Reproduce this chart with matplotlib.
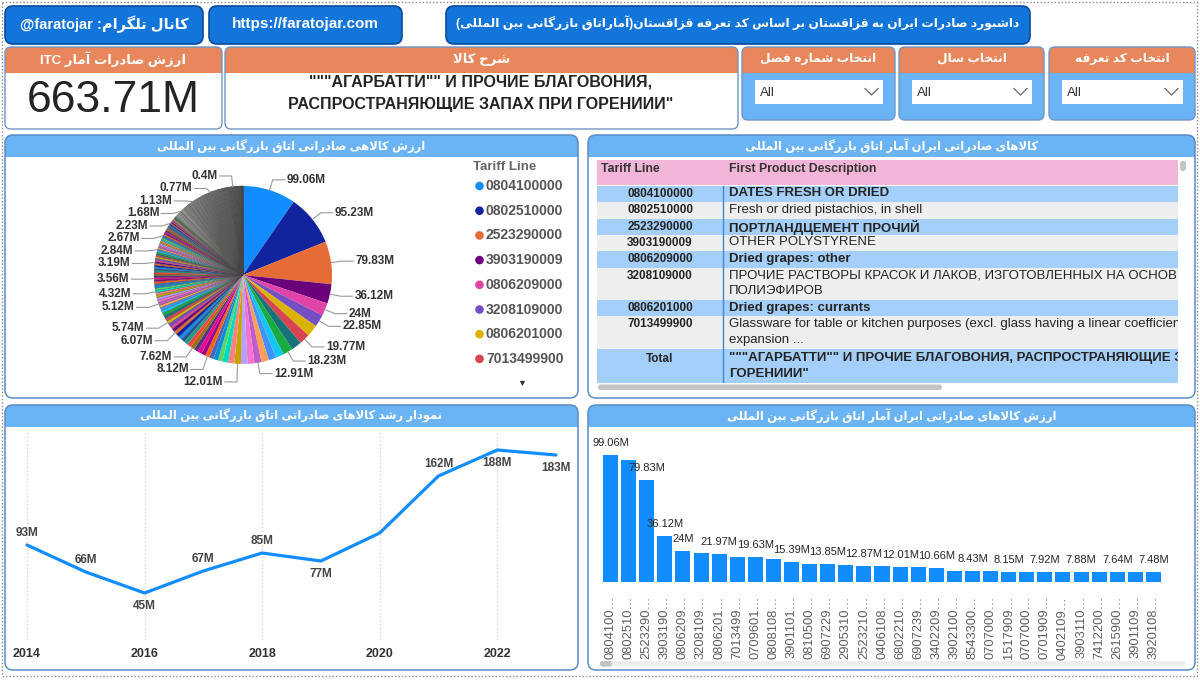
import re
import math
import matplotlib
matplotlib.use('Agg')
import matplotlib.pyplot as plt
from matplotlib.patches import FancyBboxPatch, Rectangle, Circle

plt.rcParams['font.family'] = ['Liberation Sans', 'DejaVu Sans']

# ------------------------------------------------------------------ data
kpi_value = '663.71M'
product_desc_lines = ['"""АГАРБАТТИ"" И ПРОЧИЕ БЛАГОВОНИЯ,',
                      'РАСПРОСТРАНЯЮЩИЕ ЗАПАХ ПРИ ГОРЕНИИИ"']

t_tel = 'کانال تلگرام: @faratojar'
t_url = 'https://faratojar.com'
t_title = 'داشبورد صادرات ایران به قزاقستان بر اساس کد تعرفه قزاقستان(آماراتاق بازرگانی بین المللی)'
t_kpi = 'ارزش صادرات آمار ITC'
t_desc = 'شرح کالا'
slicer_titles = ['انتخاب شماره فصل', 'انتخاب سال', 'انتخاب کد تعرفه']
slicer_values = ['All', 'All', 'All']
t_pie = 'ارزش کالاهی صادراتی اتاق بازرگانی بین المللی'
t_table = 'کالاهای صادراتی ایران آمار اتاق بازرگانی بین المللی'
t_line = 'نمودار رشد کالاهای صادراتی اتاق بازرگانی بین المللی'
t_bar = 'ارزش کالاهای صادراتی ایران آمار اتاق بازرگانی بین المللی'

years = [2014, 2015, 2016, 2017, 2018, 2019, 2020, 2021, 2022, 2023]
yearly_values = [93, 66, 45, 67, 85, 77, 105, 162, 188, 183]
yearly_label_side = ['above', 'above', 'below', 'above', 'above', 'below', None, 'above', 'below', 'below']
year_ticks = [2014, 2016, 2018, 2020, 2022]

bar_codes = ['0804100', '0802510', '2523290', '3903190', '0806209', '3208109', '0806201',
             '7013499', '0709601', '0808108', '3901101', '0810500', '6907229', '2905310',
             '2523210', '0406108', '6802210', '6907239', '3402209', '3902100', '8543300',
             '0707000', '1517909', '0707000', '0701909', '0402109', '3903110', '7412200',
             '2615900', '3901109', '3920108']
bar_values = [99.06, 95.23, 79.83, 36.12, 24.00, 22.85, 21.97, 19.77, 19.63, 18.23,
              15.39, 13.98, 13.85, 12.91, 12.87, 12.40, 12.01, 11.60, 10.66, 8.60,
              8.43, 8.30, 8.15, 8.00, 7.92, 7.90, 7.88, 7.70, 7.64, 7.50, 7.48]
bar_labelled = [0, 2, 3, 4, 6, 8, 10, 12, 14, 16, 18, 20, 22, 24, 26, 28, 30]

legend_codes = ['0804100000', '0802510000', '2523290000', '3903190009',
                '0806209000', '3208109000', '0806201000', '7013499900']

table_codes = ['0804100000', '0802510000', '2523290000', '3903190009',
               '0806209000', '3208109000', '0806201000', '7013499900']
table_descs = ['DATES FRESH OR DRIED',
               'Fresh or dried pistachios, in shell',
               'ПОРТЛАНДЦЕМЕНТ ПРОЧИЙ',
               'OTHER POLYSTYRENE',
               'Dried grapes: other',
               'ПРОЧИЕ РАСТВОРЫ КРАСОК И ЛАКОВ, ИЗГОТОВЛЕННЫХ НА ОСНОВЕ\nПОЛИЭФИРОВ',
               'Dried grapes: currants',
               'Glassware for table or kitchen purposes (excl. glass having a linear coefficient\nexpansion ...']
table_total_desc = '"""АГАРБАТТИ"" И ПРОЧИЕ БЛАГОВОНИЯ, РАСПРОСТРАНЯЮЩИЕ ЗАПАХ ПРИ\nГОРЕНИИИ"'

pie_values = [
    99.06, 95.23, 79.83, 36.12, 24.00, 22.85, 21.97, 19.77, 19.63, 18.23,
    15.39, 13.98, 13.85, 12.91, 12.87, 12.40, 12.01, 11.60, 10.66, 8.60,
    8.43, 8.30, 8.12, 7.92, 7.88, 7.80, 7.62,
    7.48, 7.30, 7.10, 6.90, 6.70, 6.07,
    5.95, 5.85, 5.80, 5.74,
    5.60, 5.50, 5.45, 5.40, 5.30, 5.20, 5.12,
    4.90, 4.70, 4.50, 4.40, 4.32,
    4.25, 4.15, 4.05, 3.95, 3.80, 3.56,
    3.50, 3.45, 3.40, 3.35, 3.30, 3.28, 3.25, 3.22, 3.19,
    3.15, 3.10, 3.05, 3.00, 2.95, 2.90, 2.88, 2.84,
    2.82, 2.80, 2.78, 2.76, 2.74, 2.72, 2.70, 2.69, 2.68, 2.67,
    2.62, 2.57, 2.52, 2.48, 2.44, 2.40, 2.36, 2.32, 2.29, 2.26, 2.23,
    2.20, 2.15, 2.10, 2.05, 2.00, 1.96, 1.92, 1.88, 1.84, 1.80, 1.77, 1.74, 1.71, 1.70, 1.68,
    1.66, 1.62, 1.58, 1.54, 1.50, 1.46, 1.42, 1.38, 1.34, 1.30, 1.27, 1.24, 1.21, 1.18,
    1.16, 1.15, 1.15, 1.14, 1.14, 1.14, 1.13,
    1.12, 1.11, 1.10, 1.09, 1.08, 1.07, 1.06, 1.05, 1.04, 1.03, 1.02, 1.01, 1.00, 0.99,
    0.98, 0.97, 0.96, 0.95, 0.94, 0.93, 0.92, 0.91, 0.90, 0.89, 0.88, 0.87, 0.86, 0.85,
    0.84, 0.83, 0.82, 0.81, 0.80, 0.79, 0.78, 0.78, 0.78, 0.78, 0.78, 0.77,
    0.76, 0.76, 0.75, 0.75, 0.74, 0.74, 0.73, 0.73, 0.72, 0.72, 0.71, 0.71, 0.70, 0.70,
    0.69, 0.69, 0.68, 0.68, 0.67, 0.67, 0.66, 0.66, 0.65, 0.65, 0.64, 0.64, 0.63, 0.63,
    0.62, 0.62, 0.61, 0.61, 0.60, 0.60, 0.59, 0.59, 0.58, 0.58, 0.57, 0.57, 0.56, 0.56,
    0.55, 0.55, 0.54, 0.54, 0.53, 0.53, 0.52, 0.52, 0.51, 0.51, 0.50, 0.50, 0.49, 0.49,
    0.48, 0.48, 0.47, 0.47, 0.46, 0.46, 0.45, 0.45, 0.44, 0.44, 0.43, 0.43, 0.42, 0.42,
    0.41, 0.41, 0.40,
    0.39, 0.39, 0.39, 0.38, 0.38, 0.38, 0.37, 0.37, 0.37, 0.36, 0.36, 0.36, 0.35, 0.35,
    0.35, 0.34, 0.34, 0.34, 0.33, 0.33, 0.33, 0.32, 0.32, 0.32, 0.31, 0.31, 0.31, 0.30,
    0.30, 0.30, 0.29, 0.29, 0.28, 0.28, 0.27, 0.27, 0.26, 0.26, 0.25, 0.25, 0.24, 0.24,
    0.23, 0.23, 0.22, 0.22, 0.21, 0.21, 0.20, 0.20, 0.19, 0.19, 0.18, 0.18, 0.17, 0.17,
    0.16, 0.16, 0.15, 0.15, 0.14, 0.14, 0.13, 0.13, 0.12, 0.12, 0.11, 0.11, 0.10, 0.10,
    0.09, 0.08, 0.07, 0.06, 0.05, 0.04, 0.03, 0.02, 0.01]
pie_labelled_values = [99.06, 95.23, 79.83, 36.12, 24.00, 22.85, 19.77, 18.23, 12.91, 12.01,
                       8.12, 7.62, 6.07, 5.74, 5.12, 4.32, 3.56, 3.19, 2.84, 2.67, 2.23,
                       1.68, 1.13, 0.77, 0.40]

# ------------------------------------------------------------------ styles
PBI = ['#118DFF', '#12239E', '#E66C37', '#6B007B', '#E044A7', '#744EC2', '#D9B300', '#D64550',
       '#197278', '#1AAB40', '#15C6F4', '#4092FF', '#FFA058', '#BE5DC9', '#F472D0', '#B5A1FF',
       '#C4A200', '#FF8080', '#00DBBC', '#5BD667', '#0091D5', '#4668C5', '#FF6300', '#99008A',
       '#EC008C', '#533285', '#99700A', '#FF4141', '#1F9A85', '#255A91']
GREYS = ['#9a9a9a', '#b8b8b8', '#7f7f7f', '#c6c6ba', '#a4a498', '#d0d0d0', '#8a928e',
         '#b0b8b8', '#bebeac', '#6f6f6f', '#a8b0a8', '#d8d8d0', '#bcc68a', '#a2b1c6']
ORANGE = '#E9875C'
HEAD_BLUE = '#6AB4F5'
DARK_BLUE = '#1275DA'
BORDER = '#5A8CC8'
TXT = '#252423'

# ------------------------------------------------------------------ RTL helper
AR = {
    '\u0627': ('\uFE8D', '\uFE8E', None, None),
    '\u0622': ('\uFE81', '\uFE82', None, None),
    '\u0628': ('\uFE8F', '\uFE90', '\uFE91', '\uFE92'),
    '\u067E': ('\uFB56', '\uFB57', '\uFB58', '\uFB59'),
    '\u062A': ('\uFE95', '\uFE96', '\uFE97', '\uFE98'),
    '\u062B': ('\uFE99', '\uFE9A', '\uFE9B', '\uFE9C'),
    '\u062C': ('\uFE9D', '\uFE9E', '\uFE9F', '\uFEA0'),
    '\u0686': ('\uFB7A', '\uFB7B', '\uFB7C', '\uFB7D'),
    '\u062D': ('\uFEA1', '\uFEA2', '\uFEA3', '\uFEA4'),
    '\u062E': ('\uFEA5', '\uFEA6', '\uFEA7', '\uFEA8'),
    '\u062F': ('\uFEA9', '\uFEAA', None, None),
    '\u0630': ('\uFEAB', '\uFEAC', None, None),
    '\u0631': ('\uFEAD', '\uFEAE', None, None),
    '\u0632': ('\uFEAF', '\uFEB0', None, None),
    '\u0698': ('\uFB8A', '\uFB8B', None, None),
    '\u0633': ('\uFEB1', '\uFEB2', '\uFEB3', '\uFEB4'),
    '\u0634': ('\uFEB5', '\uFEB6', '\uFEB7', '\uFEB8'),
    '\u0635': ('\uFEB9', '\uFEBA', '\uFEBB', '\uFEBC'),
    '\u0636': ('\uFEBD', '\uFEBE', '\uFEBF', '\uFEC0'),
    '\u0637': ('\uFEC1', '\uFEC2', '\uFEC3', '\uFEC4'),
    '\u0638': ('\uFEC5', '\uFEC6', '\uFEC7', '\uFEC8'),
    '\u0639': ('\uFEC9', '\uFECA', '\uFECB', '\uFECC'),
    '\u063A': ('\uFECD', '\uFECE', '\uFECF', '\uFED0'),
    '\u0641': ('\uFED1', '\uFED2', '\uFED3', '\uFED4'),
    '\u0642': ('\uFED5', '\uFED6', '\uFED7', '\uFED8'),
    '\u06A9': ('\uFB8E', '\uFB8F', '\uFB90', '\uFB91'),
    '\u06AF': ('\uFB92', '\uFB93', '\uFB94', '\uFB95'),
    '\u0644': ('\uFEDD', '\uFEDE', '\uFEDF', '\uFEE0'),
    '\u0645': ('\uFEE1', '\uFEE2', '\uFEE3', '\uFEE4'),
    '\u0646': ('\uFEE5', '\uFEE6', '\uFEE7', '\uFEE8'),
    '\u0647': ('\uFEE9', '\uFEEA', '\uFEEB', '\uFEEC'),
    '\u0648': ('\uFEED', '\uFEEE', None, None),
    '\u06CC': ('\uFBFC', '\uFBFD', '\uFBFE', '\uFBFF'),
}
LAMALEF = {'\u0627': ('\uFEFB', '\uFEFC'), '\u0622': ('\uFEF5', '\uFEF6')}


def shape(text):
    text = text.replace('\u064A', '\u06CC').replace('\u0643', '\u06A9')
    ch = list(text)
    n = len(ch)
    out = []
    dual = lambda c: c in AR and AR[c][2] is not None
    i = 0
    while i < n:
        c = ch[i]
        if c in AR:
            cp = i > 0 and dual(ch[i - 1])
            if c == '\u0644' and i + 1 < n and ch[i + 1] in LAMALEF:
                out.append(LAMALEF[ch[i + 1]][1 if cp else 0])
                i += 2
                continue
            cn = dual(c) and i + 1 < n and ch[i + 1] in AR
            iso, fin, ini, med = AR[c]
            out.append(med if (cp and cn) else fin if cp else ini if cn else iso)
        else:
            out.append(c)
        i += 1
    return ''.join(out)


def rtl(text):
    s = shape(text)
    mirror = {'(': ')', ')': '('}
    rev = ''.join(mirror.get(c, c) for c in reversed(s))
    return re.sub(r'[A-Za-z0-9@._/\-]+', lambda m: m.group(0)[::-1], rev)


def fmt(v):
    return f'{v:g}M'


# ------------------------------------------------------------------ canvas
W, H = 1200, 680
fig = plt.figure(figsize=(12, 6.8), dpi=100)
fig.patch.set_facecolor('white')
bg = fig.add_axes([0, 0, 1, 1])
bg.set_xlim(0, W)
bg.set_ylim(H, 0)
bg.axis('off')


def add_ax(x0, y0, x1, y1):
    a = fig.add_axes([x0 / W, 1 - y1 / H, (x1 - x0) / W, (y1 - y0) / H])
    a.patch.set_alpha(0)
    return a


def rbox(x0, y0, x1, y1, fc, ec='none', lw=1.0, r=6, z=1):
    bg.add_patch(FancyBboxPatch((x0, y0), x1 - x0, y1 - y0,
                                boxstyle=f'round,pad=0,rounding_size={r}',
                                fc=fc, ec=ec, lw=lw, zorder=z))


def ptext(x, y, s, size=9.5, color='white', weight='bold', ha='center', **kw):
    bg.text(x, y, s, fontsize=size, color=color, fontweight=weight, ha=ha, va='center',
            zorder=10, **kw)


# outer dotted frame
bg.add_patch(Rectangle((2, 2), 1195, 674, fc='none', ec='#8a8a8a', lw=1.0, ls=(0, (1, 1.5)), zorder=0))

# top header boxes
rbox(5, 6, 203, 44, DARK_BLUE, '#0C4A9C', 1.2, r=8)
ptext(104, 24, rtl(t_tel), size=10.5)
rbox(209, 6, 402, 44, DARK_BLUE, '#0C4A9C', 1.2, r=8)
ptext(305, 24, t_url, size=11)
rbox(446, 6, 1030, 44, DARK_BLUE, '#0C4A9C', 1.2, r=8)
ptext(738, 23, rtl(t_title), size=8.8)


def card(x0, y0, x1, y1, title, body_fc='white', hh=26, tsize=9.5):
    rbox(x0, y0, x1, y1, body_fc, 'none', r=6, z=1)
    rbox(x0, y0, x1, y0 + hh, ORANGE, 'none', r=6, z=2)
    bg.add_patch(Rectangle((x0, y0 + hh - 8), x1 - x0, 8, fc=ORANGE, ec='none', zorder=2))
    rbox(x0, y0, x1, y1, 'none', '#6F95C8', 1.0, r=6, z=3)
    ptext((x0 + x1) / 2, y0 + 12, rtl(title), size=tsize)


# KPI card
card(5, 47, 222, 129, t_kpi, tsize=9.5)
ptext(113, 101, kpi_value, size=32, color=TXT, weight='normal')

# description card
card(225, 47, 738, 129, t_desc, tsize=9.5)
ptext(481, 82, product_desc_lines[0], size=11.5, color=TXT)
ptext(481, 104, product_desc_lines[1], size=11.5, color=TXT)

# slicers
for (x0, x1), title, val in zip([(742, 895), (899, 1044), (1049, 1195)], slicer_titles, slicer_values):
    card(x0, 47, x1, 120, title, body_fc=HEAD_BLUE, tsize=8.8)
    bg.add_patch(Rectangle((x0 + 13, 80), x1 - x0 - 25, 24, fc='white', ec='none', zorder=4))
    ptext(x0 + 18, 92.5, val, size=9.5, color='#333333', weight='normal', ha='left')
    bg.plot([x1 - 30, x1 - 23.5, x1 - 17], [88.5, 95, 88.5], color='#666666', lw=0.9, zorder=5)


def panel(x0, y0, x1, y1, title):
    rbox(x0, y0, x1, y1, 'white', 'none', r=8, z=1)
    rbox(x0, y0, x1, y0 + 22, HEAD_BLUE, 'none', r=8, z=2)
    bg.add_patch(Rectangle((x0, y0 + 12), x1 - x0, 10, fc=HEAD_BLUE, ec='none', zorder=2))
    rbox(x0, y0, x1, y1, 'none', BORDER, 1.1, r=8, z=3)
    ptext((x0 + x1) / 2, y0 + 11, rtl(title), size=8.3)


panel(5, 135, 578, 398, t_pie)
panel(588, 135, 1195, 398, t_table)
panel(5, 405, 578, 670, t_line)
panel(588, 405, 1195, 670, t_bar)

# ------------------------------------------------------------------ pie
PCX, PCY, PR = 243, 275, 89
pax = add_ax(PCX - 165, PCY - 125, PCX + 165, PCY + 125)
pie_colors = []
for i in range(len(pie_values)):
    if i < 30:
        pie_colors.append(PBI[i])
    elif i < 100:
        pie_colors.append(PBI[i % 30])
    else:
        pie_colors.append(GREYS[i % len(GREYS)])
wedges, _ = pax.pie(pie_values, colors=pie_colors, startangle=90, counterclock=False,
                    radius=PR, center=(0, 0), wedgeprops=dict(linewidth=0))
for i, w in enumerate(wedges):
    if i >= 30:
        w.set_edgecolor('#454545')
        w.set_linewidth(0.2)
pax.set_xlim(-165, 165)
pax.set_ylim(-125, 125)
pax.set_aspect('auto')
pax.axis('off')

items = []
used = set()
for v in pie_labelled_values:
    idx = next(i for i, pv in enumerate(pie_values) if abs(pv - v) < 1e-9 and i not in used)
    used.add(idx)
    w = wedges[idx]
    t = math.radians((w.theta1 + w.theta2) / 2)
    ex, ey = PR * math.cos(t), PR * math.sin(t)
    kx, ky = 1.12 * PR * math.cos(t), 1.12 * PR * math.sin(t)
    items.append([kx, ky, ex, ey, fmt(v)])
for side in (1, -1):
    grp = sorted([it for it in items if (it[0] >= 0) == (side == 1)], key=lambda it: -it[1])
    for j in range(1, len(grp)):
        if grp[j][1] > grp[j - 1][1] - 12.5:
            grp[j][1] = grp[j - 1][1] - 12.5
for kx, ky, ex, ey, lab in items:
    s = 1 if kx >= 0 else -1
    hx = kx + s * 12
    pax.plot([ex, kx, hx], [ey, ky, ky], color='#9a9a9a', lw=0.8, clip_on=False)
    pax.text(hx + s * 2, ky, lab, ha='left' if s > 0 else 'right', va='center',
             fontsize=8.5, fontweight='bold', color='#333333', clip_on=False)

# pie legend
ptext(473, 167, 'Tariff Line', size=9.5, color='#666666', ha='left')
for i, code in enumerate(legend_codes):
    yy = 186 + 24.7 * i
    bg.add_patch(Circle((479.5, yy), 4.3, fc=PBI[i], ec='none', zorder=5))
    ptext(486, yy, code, size=10, color='#555555', ha='left')
ptext(522, 383, '\u25BC', size=6.5, color='#333333')

# ------------------------------------------------------------------ table
tax = add_ax(597, 160, 1178, 383)
tax.set_xlim(597, 1178)
tax.set_ylim(383, 160)
tax.axis('off')
tax.add_patch(Rectangle((597, 160), 581, 25, fc='#F1B5D8', ec='none'))
tax.text(601, 169, 'Tariff Line', fontsize=8.8, fontweight='bold', color='#333333', va='center')
tax.text(729, 169, 'First Product Description', fontsize=8.8, fontweight='bold', color='#333333', va='center')
row_y = 186.0
LINE_H = 16.3
for k, (code, desc) in enumerate(zip(table_codes, table_descs)):
    nl = desc.count('\n') + 1
    hgt = LINE_H * nl
    fc = '#A3CFFA' if k % 2 == 0 else '#EEEEEE'
    tax.add_patch(Rectangle((597, row_y), 581, hgt, fc=fc, ec='none'))
    wt = 'bold' if k % 2 == 0 else 'normal'
    tax.text(660, row_y + 2, code, fontsize=8.5, fontweight='bold', color=TXT, ha='center', va='top', clip_on=True)
    tax.text(729, row_y + 1.5, desc, fontsize=9.5, fontweight=wt, color=TXT, ha='left', va='top',
             linespacing=1.4, clip_on=True)
    row_y += hgt
tax.add_patch(Rectangle((597, row_y), 581, 383 - row_y, fc='#A3CFFA', ec='none'))
tax.text(660, row_y + 4, 'Total', fontsize=8.5, fontweight='bold', color=TXT, ha='center', va='top')
tax.text(729, row_y + 3, table_total_desc, fontsize=9.5, fontweight='bold', color=TXT, ha='left', va='top',
         linespacing=1.4, clip_on=True)
tax.plot([723, 723], [186, 383], color='#3E86D0', lw=1)
rbox(598, 384.5, 942, 390, '#C4C4C4', 'none', r=2.5, z=5)
rbox(1180, 161, 1186, 171, '#C4C4C4', 'none', r=2.5, z=5)

# ------------------------------------------------------------------ line chart
lax = add_ax(10, 432, 575, 640)
x_per_px = 9 / (556 - 27)
lax.set_xlim(2014 - 17 * x_per_px, 2023 + 19 * x_per_px)
lax.set_ylim(-2, 206)
for yr in year_ticks:
    lax.axvline(yr, color='#cfcfcf', lw=0.9, ls=(0, (1, 2)), zorder=0)
lax.plot(years, yearly_values, color='#118DFF', lw=2.3, solid_joinstyle='round', solid_capstyle='round')
for yr, v, side in zip(years, yearly_values, yearly_label_side):
    if side is None:
        continue
    off = 8.8 if side == 'above' else -9.4
    lax.annotate(fmt(v), (yr, v), xytext=(0, off), textcoords='offset points', ha='center', va='center',
                 fontsize=8.5, fontweight='bold', color='#444444')
lax.set_xticks(year_ticks)
lax.set_xticklabels([str(y) for y in year_ticks], fontsize=9, fontweight='bold', color='#333333')
lax.tick_params(axis='x', length=0, pad=6)
lax.set_yticks([])
for sp in lax.spines.values():
    sp.set_visible(False)

# ------------------------------------------------------------------ bar chart
bax = add_ax(601.5, 440, 1162.5, 582)
xs = list(range(len(bar_values)))
bax.bar(xs, bar_values, width=0.83, color='#118DFF')
bax.set_xlim(-0.5, len(bar_values) - 0.5)
bax.set_ylim(0, 142 / 1.282)
for i in bar_labelled:
    bax.annotate(fmt(bar_values[i]), (i, bar_values[i]), xytext=(0, 8.6), textcoords='offset points',
                 ha='center', va='center', fontsize=8, color=TXT)
bax.set_xticks(xs)
bax.set_xticklabels([c + '\u2026' for c in bar_codes], rotation=90, fontsize=9.3, color='#605E5C')
bax.tick_params(axis='x', length=0, pad=10)
bax.set_yticks([])
for sp in bax.spines.values():
    sp.set_visible(False)
rbox(600, 661, 1185, 666.5, '#EEEEEE', 'none', r=2.5, z=5)
rbox(600, 661, 612, 666.5, '#C4C4C4', 'none', r=2.5, z=6)

fig.savefig('out.png', dpi=100, facecolor='white')
